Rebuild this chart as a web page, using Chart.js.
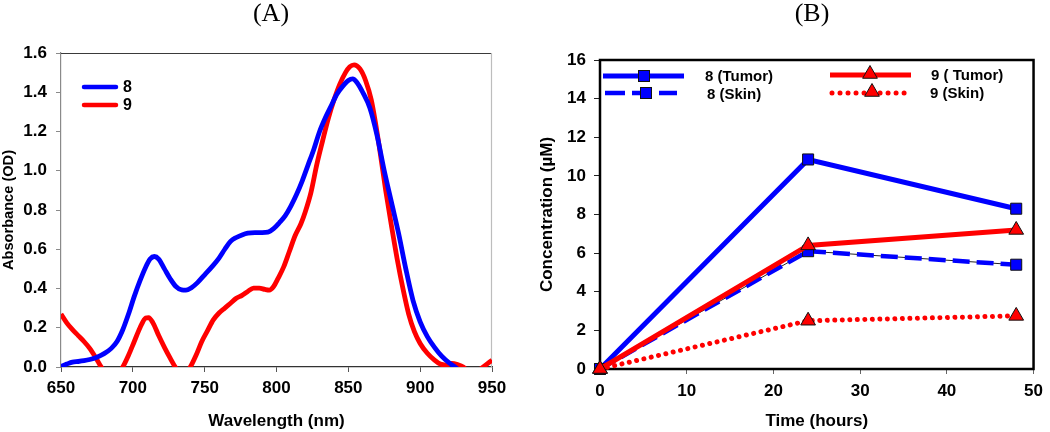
<!DOCTYPE html>
<html><head><meta charset="utf-8">
<script src="https://cdn.jsdelivr.net/npm/chart.js@4.4.1/dist/chart.umd.min.js"></script>
<style>
html,body{margin:0;padding:0;background:#fff;width:1050px;height:432px;overflow:hidden}
canvas{position:absolute;top:0}
#ca{left:0}
#cb{left:525px}
</style></head><body>
<canvas id="ca" width="525" height="432"></canvas>
<canvas id="cb" width="525" height="432"></canvas>
<script>
// ---------- Panel (A): absorbance spectra ----------
const wavelength8 = [650,654,658,662,666,670,675,680,685,689,693,697,701,705,709,712,715,718,722,726,730,734,737,741,745,750,755,760,764,768,772,776,780,785,790,794,798,802,806,810,814,818,822,826,830,834,838,842,846,850,853,856,860,865,870,875,880,885,890,895,900,905,910,915,920,924,927];
const absorb8 = [0.003,0.015,0.025,0.028,0.032,0.038,0.05,0.068,0.095,0.13,0.19,0.27,0.36,0.44,0.51,0.55,0.563,0.55,0.5,0.45,0.41,0.393,0.392,0.405,0.43,0.47,0.51,0.555,0.6,0.64,0.66,0.673,0.682,0.685,0.685,0.687,0.705,0.735,0.77,0.82,0.88,0.95,1.03,1.11,1.2,1.27,1.33,1.39,1.43,1.46,1.468,1.45,1.40,1.32,1.18,1.00,0.84,0.68,0.50,0.34,0.23,0.155,0.10,0.055,0.022,0.002,-0.015];
const wavelength9 = [650,654,658,662,666,670,674,678,682,686,690,693,697,701,705,709,711,714,718,722,726,729.5,732,735,738,740,744,748,752,756,760,764,768,772,776,780,784,788,792,795,798,801,805,809,813,817,820,824,828,832,836,840,844,848,851,854,858,862,866,869,872,876,880,884,888,892,896,900,905,910,914,918,922,926,930,936,942,946,950];
const absorb9 = [0.27,0.225,0.19,0.16,0.13,0.095,0.05,0.0,-0.04,-0.06,-0.03,0.0,0.06,0.13,0.2,0.25,0.252,0.225,0.16,0.1,0.045,0.0,-0.025,-0.035,-0.02,0.0,0.06,0.13,0.185,0.24,0.275,0.3,0.325,0.35,0.365,0.385,0.402,0.402,0.395,0.392,0.41,0.45,0.51,0.59,0.67,0.73,0.79,0.89,1.03,1.15,1.265,1.36,1.44,1.50,1.53,1.54,1.52,1.46,1.36,1.24,1.10,0.90,0.72,0.55,0.40,0.27,0.18,0.12,0.07,0.035,0.015,0.01,0.018,0.012,0.0,-0.04,-0.01,0.012,0.035];
const seriesNamesA = ['8','9'];
const xRangeA = [650, 950, 50];
const yRangeA = [0, 1.6, 0.2];

// ---------- Panel (B): concentration vs time ----------
const timeHours = [0, 24, 48];
const tumor8 = [0, 10.85, 8.3];
const skin8  = [0, 6.1, 5.4];
const tumor9 = [0, 6.4, 7.2];
const skin9  = [0, 2.5, 2.75];
const seriesNamesB = ['8 (Tumor)', '8 (Skin)', '9 ( Tumor)', '9 (Skin)'];
const xRangeB = [0, 50, 10];
const yRangeB = [0, 16, 2];

const BLUE = '#0000ff', RED = '#ff0000';
const SANS = '"Liberation Sans", Arial, sans-serif';
const SERIF = '"Liberation Serif", "Times New Roman", serif';
Chart.defaults.font.family = SANS;
Chart.defaults.color = '#000';

function pts(xs, ys){ return xs.map((x,i)=>({x:x, y:ys[i]})); }

// ---- Chart A ----
const plugA = {
  id:'plugA',
  beforeDatasetsDraw(chart){
    const {ctx, chartArea:a} = chart;
    ctx.save();
    ctx.lineWidth = 1.2;
    ctx.strokeStyle = '#3a3a3a';
    ctx.beginPath(); ctx.moveTo(a.left, a.top+0.5); ctx.lineTo(a.right, a.top+0.5); ctx.stroke();
    ctx.strokeStyle = '#bdbdbd';
    ctx.beginPath(); ctx.moveTo(a.right-0.5, a.top); ctx.lineTo(a.right-0.5, a.bottom); ctx.stroke();
    ctx.restore();
  },
  afterDraw(chart){
    const ctx = chart.ctx;
    ctx.save();
    ctx.font = '26px ' + SERIF;
    ctx.fillStyle = '#000';
    ctx.textAlign = 'center'; ctx.textBaseline = 'middle';
    ctx.fillText('(A)', 271, 14);
    // legend
    const rows = [[BLUE, seriesNamesA[0], 87], [RED, seriesNamesA[1], 105]];
    ctx.lineCap = 'round'; ctx.lineWidth = 4.5;
    ctx.font = 'bold 16px ' + SANS; ctx.textAlign = 'left';
    rows.forEach(r=>{
      ctx.strokeStyle = r[0];
      ctx.beginPath(); ctx.moveTo(84, r[2]); ctx.lineTo(116, r[2]); ctx.stroke();
      ctx.fillText(r[1], 123, r[2]+1);
    });
    ctx.restore();
  }
};

new Chart(document.getElementById('ca'), {
  type:'line',
  data:{datasets:[
    {label:seriesNamesA[0], data:pts(wavelength8, absorb8), borderColor:BLUE, borderWidth:4.8, pointRadius:0, cubicInterpolationMode:'monotone', borderJoinStyle:'round'},
    {label:seriesNamesA[1], data:pts(wavelength9, absorb9), borderColor:RED, borderWidth:4.8, pointRadius:0, cubicInterpolationMode:'monotone', borderJoinStyle:'round'}
  ]},
  options:{
    responsive:false, animation:false, devicePixelRatio:1,
    layout:{padding:{top:53, right:33, left:0, bottom:0}},
    plugins:{legend:{display:false}, tooltip:{enabled:false}, title:{display:false}},
    scales:{
      x:{type:'linear', min:xRangeA[0], max:xRangeA[1],
        ticks:{stepSize:xRangeA[2], font:{size:17, weight:'bold'}, color:'#000', padding:6, maxRotation:0},
        grid:{drawOnChartArea:false, drawTicks:true, tickLength:5, color:'#555'},
        border:{color:'#333', width:1.3},
        title:{display:true, text:'Wavelength (nm)', font:{size:17, weight:'bold'}, color:'#000', padding:{top:0, bottom:0}},
        afterFit(s){ s.height = 65; }
      },
      y:{type:'linear', min:yRangeA[0], max:yRangeA[1],
        ticks:{stepSize:yRangeA[2], font:{size:17, weight:'bold'}, color:'#000', padding:9, callback:v=>Number(v).toFixed(1)},
        grid:{drawOnChartArea:false, drawTicks:true, tickLength:5, color:'#8a8a8a'},
        border:{color:'#8a8a8a', width:1.2},
        title:{display:true, text:'Absorbance (OD)', font:{size:14.6, weight:'bold'}, color:'#000', padding:{top:0, bottom:0}},
        afterFit(s){ s.width = 61; }
      }
    }
  },
  plugins:[plugA]
});

// ---- Chart B ----
function drawSquare(ctx, x, y, s){ ctx.fillStyle = BLUE; ctx.strokeStyle = '#111'; ctx.lineWidth = 1; ctx.fillRect(x-s/2, y-s/2, s, s); ctx.strokeRect(x-s/2, y-s/2, s, s); }
function drawTri(ctx, x, y, r){ ctx.fillStyle = RED; ctx.strokeStyle = '#111'; ctx.lineWidth = 1; ctx.beginPath(); ctx.moveTo(x, y-r); ctx.lineTo(x-r*0.866, y+r/2); ctx.lineTo(x+r*0.866, y+r/2); ctx.closePath(); ctx.fill(); ctx.stroke(); }

const plugB = {
  id:'plugB',
  beforeDatasetsDraw(chart){
    const {ctx, chartArea:a} = chart;
    ctx.save();
    ctx.lineWidth = 2.5; ctx.strokeStyle = '#000';
    ctx.strokeRect(a.left, a.top, a.right-a.left, a.bottom-a.top);
    ctx.restore();
  },
  afterDraw(chart){
    const ctx = chart.ctx;
    ctx.save();
    ctx.font = '26px ' + SERIF;
    ctx.fillStyle = '#000';
    ctx.textAlign = 'center'; ctx.textBaseline = 'middle';
    ctx.fillText('(B)', 287, 14);
    // legend lines
    ctx.lineWidth = 5;
    // 8 Tumor
    ctx.strokeStyle = BLUE; ctx.lineCap = 'butt'; ctx.setLineDash([]);
    ctx.beginPath(); ctx.moveTo(78, 76); ctx.lineTo(159, 76); ctx.stroke();
    drawSquare(ctx, 119, 76, 11);
    // 8 Skin
    ctx.strokeStyle = BLUE; ctx.lineWidth = 4.5; ctx.setLineDash([20, 7]);
    ctx.beginPath(); ctx.moveTo(80, 93); ctx.lineTo(152, 93); ctx.stroke();
    ctx.setLineDash([]);
    drawSquare(ctx, 121, 93, 11);
    // 9 Tumor
    ctx.strokeStyle = RED; ctx.lineWidth = 5;
    ctx.beginPath(); ctx.moveTo(305, 75); ctx.lineTo(386, 75); ctx.stroke();
    drawTri(ctx, 345, 74, 8.5);
    // 9 Skin
    ctx.strokeStyle = RED; ctx.lineWidth = 5; ctx.lineCap = 'round'; ctx.setLineDash([0.01, 8]);
    ctx.beginPath(); ctx.moveTo(307, 93); ctx.lineTo(387, 93); ctx.stroke();
    ctx.setLineDash([]); ctx.lineCap = 'butt';
    drawTri(ctx, 347, 92, 8.5);
    // legend text
    ctx.fillStyle = '#000';
    ctx.font = 'bold 15px ' + SANS; ctx.textAlign = 'left'; ctx.textBaseline = 'middle';
    ctx.fillText(seriesNamesB[0], 180, 77);
    ctx.fillText(seriesNamesB[1], 182, 95);
    ctx.fillText(seriesNamesB[2], 406, 76);
    ctx.fillText(seriesNamesB[3], 405, 94);
    ctx.restore();
  }
};

new Chart(document.getElementById('cb'), {
  type:'line',
  data:{datasets:[
    {label:seriesNamesB[2], data:pts(timeHours, tumor9), borderColor:RED, borderWidth:5, pointStyle:'triangle', pointRadius:8.5, pointBackgroundColor:RED, pointBorderColor:'#111', pointBorderWidth:1, clip:false, tension:0},
    {label:seriesNamesB[3], data:pts(timeHours, skin9), borderColor:RED, borderWidth:5, borderDash:[0.01, 7.5], borderCapStyle:'round', pointStyle:'triangle', pointRadius:8.5, pointBackgroundColor:RED, pointBorderColor:'#111', pointBorderWidth:1, clip:false, tension:0},
    {label:seriesNamesB[0], data:pts(timeHours, tumor8), borderColor:BLUE, borderWidth:5, pointStyle:'rect', pointRadius:7.8, pointBackgroundColor:BLUE, pointBorderColor:'#111', pointBorderWidth:1, clip:false, tension:0},
    {label:seriesNamesB[1], data:pts(timeHours, skin8), borderColor:BLUE, borderWidth:4.5, borderDash:[17, 7], pointStyle:'rect', pointRadius:7.8, pointBackgroundColor:BLUE, pointBorderColor:'#111', pointBorderWidth:1, clip:false, tension:0},
    {label:'', data:pts(timeHours, skin8), borderColor:'#222', borderWidth:1, pointRadius:0, clip:false, tension:0}
  ]},
  options:{
    responsive:false, animation:false, devicePixelRatio:1,
    layout:{padding:{top:60, right:10, left:0, bottom:0}},
    plugins:{legend:{display:false}, tooltip:{enabled:false}, title:{display:false}},
    scales:{
      x:{type:'linear', min:xRangeB[0], max:xRangeB[1],
        ticks:{stepSize:xRangeB[2], font:{size:17, weight:'bold'}, color:'#000', padding:7, maxRotation:0},
        grid:{drawOnChartArea:false, drawTicks:true, tickLength:5, color:'#666'},
        border:{display:false},
        title:{display:true, text:'Time (hours)', font:{size:17, weight:'bold'}, color:'#000', padding:{top:0, bottom:0}},
        afterFit(s){ s.height = 63; }
      },
      y:{type:'linear', min:yRangeB[0], max:yRangeB[1],
        ticks:{stepSize:yRangeB[2], font:{size:17, weight:'bold'}, color:'#000', padding:8},
        grid:{drawOnChartArea:false, drawTicks:true, tickLength:6, color:'#222'},
        border:{display:false},
        title:{display:true, text:'Concentration (µM)', font:{size:17, weight:'bold'}, color:'#000', padding:{top:12, bottom:0}},
        afterFit(s){ s.width = 75; }
      }
    }
  },
  plugins:[plugB]
});
</script>
</body></html>
